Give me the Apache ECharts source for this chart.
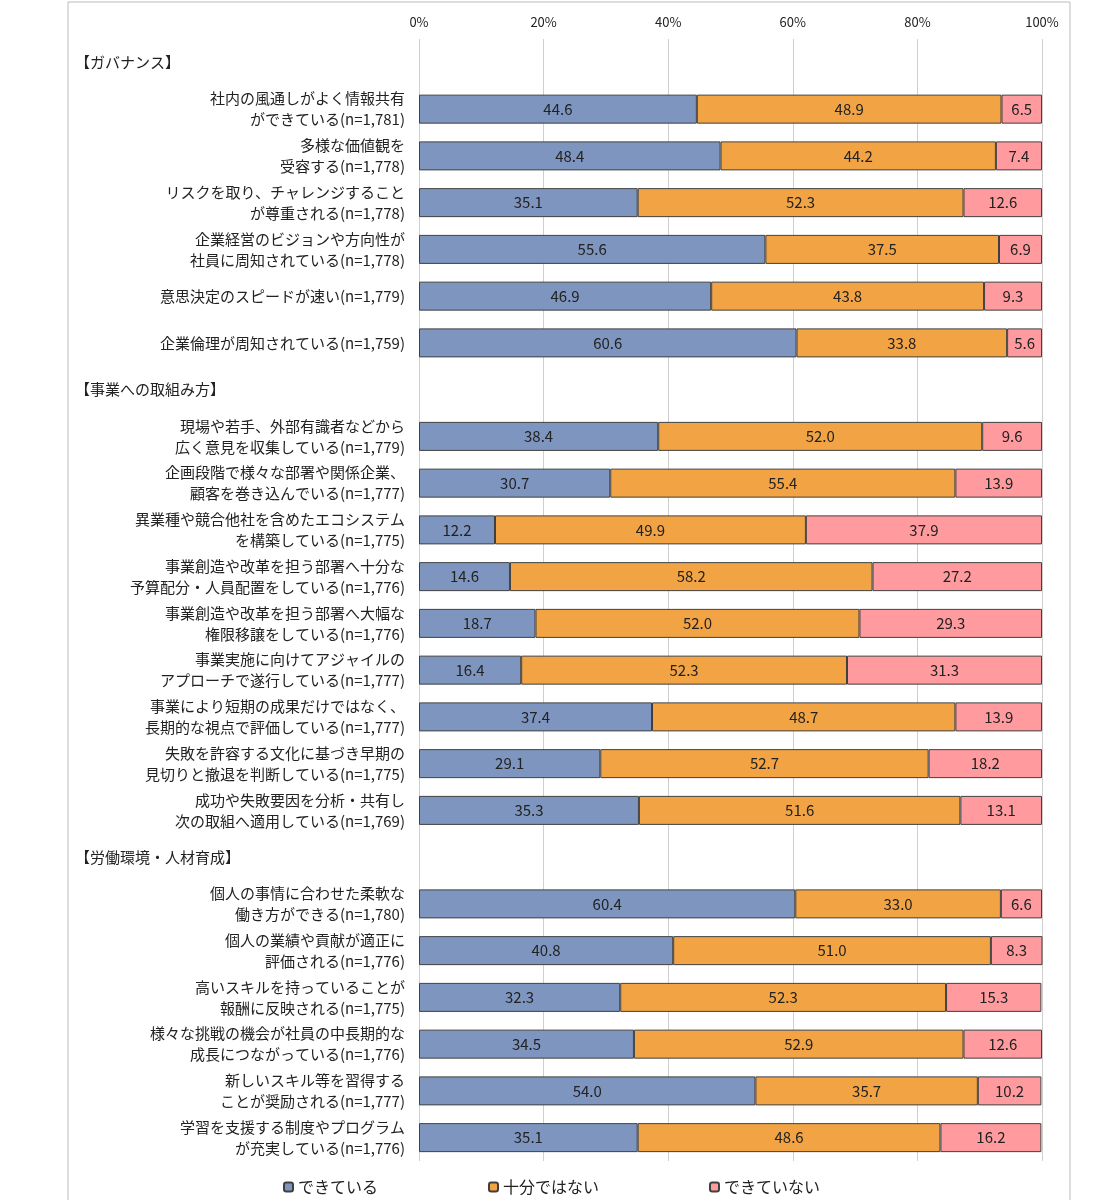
<!DOCTYPE html>
<html>
<head>
<meta charset="utf-8">
<script src="https://cdn.jsdelivr.net/npm/echarts@6/dist/echarts.min.js"></script>
<style>
*{margin:0;padding:0;}
#main{width:1103px;height:1200px;}
</style>
</head>
<body>
<div id="main"></div>
<script>
// '#' marks a section header row
var categories = [
  '#【ガバナンス】',
  '社内の風通しがよく情報共有\nができている(n=1,781)',
  '多様な価値観を\n受容する(n=1,778)',
  'リスクを取り、チャレンジすること\nが尊重される(n=1,778)',
  '企業経営のビジョンや方向性が\n社員に周知されている(n=1,778)',
  '意思決定のスピードが速い(n=1,779)',
  '企業倫理が周知されている(n=1,759)',
  '#【事業への取組み方】',
  '現場や若手、外部有識者などから\n広く意見を収集している(n=1,779)',
  '企画段階で様々な部署や関係企業、\n顧客を巻き込んでいる(n=1,777)',
  '異業種や競合他社を含めたエコシステム\nを構築している(n=1,775)',
  '事業創造や改革を担う部署へ十分な\n予算配分・人員配置をしている(n=1,776)',
  '事業創造や改革を担う部署へ大幅な\n権限移譲をしている(n=1,776)',
  '事業実施に向けてアジャイルの\nアプローチで遂行している(n=1,777)',
  '事業により短期の成果だけではなく、\n長期的な視点で評価している(n=1,777)',
  '失敗を許容する文化に基づき早期の\n見切りと撤退を判断している(n=1,775)',
  '成功や失敗要因を分析・共有し\n次の取組へ適用している(n=1,769)',
  '#【労働環境・人材育成】',
  '個人の事情に合わせた柔軟な\n働き方ができる(n=1,780)',
  '個人の業績や貢献が適正に\n評価される(n=1,776)',
  '高いスキルを持っていることが\n報酬に反映される(n=1,775)',
  '様々な挑戦の機会が社員の中長期的な\n成長につながっている(n=1,776)',
  '新しいスキル等を習得する\nことが奨励される(n=1,777)',
  '学習を支援する制度やプログラム\nが充実している(n=1,776)'
];
var dekiteiru = [null,44.6,48.4,35.1,55.6,46.9,60.6,null,38.4,30.7,12.2,14.6,18.7,16.4,37.4,29.1,35.3,null,60.4,40.8,32.3,34.5,54.0,35.1];
var juubunDeha = [null,48.9,44.2,52.3,37.5,43.8,33.8,null,52.0,55.4,49.9,58.2,52.0,52.3,48.7,52.7,51.6,null,33.0,51.0,52.3,52.9,35.7,48.6];
var dekiteinai = [null,6.5,7.4,12.6,6.9,9.3,5.6,null,9.6,13.9,37.9,27.2,29.3,31.3,13.9,18.2,13.1,null,6.6,8.3,15.3,12.6,10.2,16.2];
var seriesNames = ['できている','十分ではない','できていない'];
var colors = ['#7e96bf','#f2a444','#ff9b9e'];

var font = '"Noto Sans CJK JP", sans-serif';
var chart = echarts.init(document.getElementById('main'));
function mk(i, d) {
  return {
    name: seriesNames[i], type: 'bar', stack: 'a', barWidth: 29, data: d,
    itemStyle: {color: colors[i], borderColor: '#404040', borderWidth: 1},
    label: {show: true, position: 'inside', color: '#222', fontSize: 15, fontFamily: font,
      formatter: function (p) { return p.value == null ? '' : p.value.toFixed(1); }}
  };
}
chart.setOption({
  animation: false,
  textStyle: {fontFamily: font},
  graphic: [{type: 'rect', shape: {x: 68, y: 2, width: 1002, height: 1250}, style: {fill: 'none', stroke: '#bbb', lineWidth: 1}}],
  grid: {left: 419, right: 61, top: 39, bottom: 39},
  xAxis: {type: 'value', position: 'top', min: 0, max: 100, interval: 20,
    axisLabel: {formatter: '{value}%', color: '#222', fontSize: 13, margin: 10},
    splitLine: {lineStyle: {color: '#cfcfcf'}}, axisLine: {show: false}, axisTick: {show: false}},
  yAxis: {type: 'category', inverse: true, data: categories,
    axisLine: {show: false}, axisTick: {show: false},
    axisLabel: {margin: 14, color: '#222', fontSize: 15, lineHeight: 21, align: 'right',
      formatter: function (v) { return v.charAt(0) === '#' ? '{h|' + v.slice(1) + '}' : v; },
      rich: {h: {width: 330, align: 'left', fontSize: 15, color: '#222'}}}},
  legend: {bottom: 0, left: 'center', itemGap: 110, itemWidth: 9, itemHeight: 9,
    textStyle: {fontSize: 16, color: '#222'}, data: seriesNames},
  series: [mk(0, dekiteiru), mk(1, juubunDeha), mk(2, dekiteinai)]
});
</script>
</body>
</html>
